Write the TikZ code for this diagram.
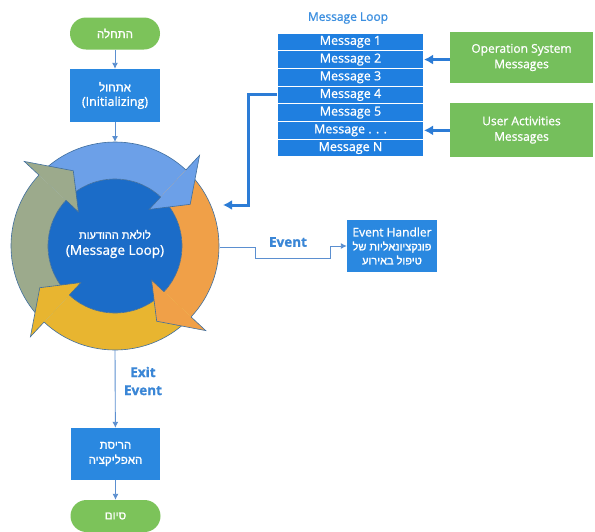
\documentclass[tikz,border=0pt]{standalone}
\usepackage{fontspec}
\setmainfont{Open Sans}[FakeBold=1]
\newfontfamily\heb[Script=Hebrew,FakeBold=1.6]{Liberation Sans}
\TeXXeTstate=1
\newcommand{\hb}[1]{{\heb\beginR #1\endR}}
\usetikzlibrary{arrows.meta}
\definecolor{boxblue}{HTML}{2A88E0}
\definecolor{msgblue}{HTML}{1F7FE0}
\definecolor{pillgreen}{HTML}{7CC35A}
\definecolor{srcgreen}{HTML}{75BF5C}
\definecolor{linkblue}{HTML}{5B8FD0}
\definecolor{thickblue}{HTML}{2C7CD6}
\definecolor{labelblue}{HTML}{3A86D6}
\definecolor{titleblue}{HTML}{3C8FE0}
\definecolor{arrblue}{HTML}{6CA0E8}
\definecolor{arrorange}{HTML}{F0A048}
\definecolor{arryellow}{HTML}{E8B530}
\definecolor{arrgray}{HTML}{9CAA8C}
\definecolor{innerblue}{HTML}{1B6CC8}
\definecolor{ringline}{HTML}{3F6E9E}
\begin{document}
\begin{tikzpicture}[x=1pt,y=-1pt,
  pill/.style={fill=pillgreen, rounded corners=16pt, minimum width=90pt, minimum height=32pt, text=white, font=\fontsize{11.5}{14}\selectfont, inner sep=0pt},
  bluebox/.style={fill=boxblue, text=white, align=center, inner sep=0pt, font=\fontsize{12.5}{14.5}\selectfont},
  msg/.style={fill=msgblue, draw=white, line width=1pt, text=white, minimum width=146pt, minimum height=17.7pt, inner sep=0pt, font=\fontsize{12.5}{14}\selectfont},
  src/.style={fill=srcgreen, text=white, align=center, minimum width=143pt, inner sep=0pt, font=\fontsize{12}{15.5}\selectfont},
  flowarrow/.style={draw=linkblue, line width=0.9pt, -{Latex[length=6pt,width=6pt]}},
  bigarrow/.style={draw=thickblue, line width=3pt, -{Latex[length=9pt,width=10pt]}},
  lbl/.style={text=labelblue, font=\bfseries\fontsize{13.5}{18}\selectfont, align=center},
  ringdraw/.style={draw=ringline, line width=0.6pt}
]
\fill[white] (0,0) rectangle (595,531);
\useasboundingbox (0,0) rectangle (595,531);

% cycle
\begin{scope}[shift={(115,246)}, y=1pt]
  \fill[innerblue] (0,0) circle (67);
  \foreach \t/\h/\c in {137/47/arrblue, 47/-43/arrorange, -43/-133/arryellow, -133/-223/arrgray}{
    \fill[\c] (\t:104) arc[start angle=\t, end angle=\h, radius=104] -- (\h:67) arc[start angle=\h, end angle=\t, radius=67] -- cycle;
    \draw[ringdraw] (\t:104) arc[start angle=\t, end angle=\h, radius=104];
    \draw[ringdraw] (\t:67) arc[start angle=\t, end angle=\h, radius=67];
  }
  \foreach \h/\c in {47/arrblue, -43/arrorange, -133/arryellow, -223/arrgray}{
    \fill[\c] (\h:104) -- (\h:124) -- ({\h-18}:86) -- (\h:50) -- (\h:67) -- cycle;
    \draw[ringdraw, line join=miter] (\h:104) -- (\h:124) -- ({\h-18}:86) -- (\h:50) -- (\h:67);
  }
\end{scope}
\node[text=white, align=center, font=\fontsize{13.5}{16}\selectfont] (looptext) at (115,244) {{\fontsize{11}{13}\selectfont\hb{לולאת ההודעות}}\\(Message Loop)};
\coordinate (looptop) at (115,142);
\coordinate (loopbottom) at (115,350);
\coordinate (loopin) at (223,205);
\coordinate (loopright) at (220,247);

% left column
\node[pill] (start) at (115,33.5) {\hb{התחלה}};
\node[bluebox, minimum width=90pt, minimum height=53pt] (init) at (115,95.5) {{\fontsize{11.5}{14}\selectfont\hb{אתחול}}\\(Initializing)};
\node[bluebox, minimum width=89pt, minimum height=52pt, font=\fontsize{11.5}{15}\selectfont] (destroy) at (115.5,454) {\hb{הריסת}\\\hb{האפליקציה}};
\node[pill] (end) at (115.5,516) {\hb{סיום}};

\draw[flowarrow] (start) -- (init);
\draw[flowarrow] (init) -- (looptop);
\draw[flowarrow] (loopbottom) -- (destroy);
\draw[flowarrow] (destroy) -- (end);
\node[lbl] (exlbl) at (143,381) {Exit\\Event};

% message loop
\node[text=titleblue, font=\fontsize{12}{14}\selectfont] (mltitle) at (348,18) {Message Loop};
\node[msg] (m1) at (350.5,41.85) {Message 1};
\node[msg] (m2) at (350.5,59.55) {Message 2};
\node[msg] (m3) at (350.5,77.25) {Message 3};
\node[msg] (m4) at (350.5,94.95) {Message 4};
\node[msg] (m5) at (350.5,112.65) {Message 5};
\node[msg] (m6) at (350.5,130.35) {Message . . .};
\node[msg] (m7) at (350.5,148.05) {Message N};

\node[src, minimum height=51pt] (os) at (521.5,57.5) {Operation System\\Messages};
\node[src, minimum height=54pt] (ua) at (521.5,130) {User Activities\\Messages};

\draw[bigarrow] (os.west |- m2.east) -- (m2.east);
\draw[bigarrow] (ua.west |- m6.east) -- (m6.east);
\coordinate (bend) at (248,205);
\draw[bigarrow] (m4.west) -| (bend) -- (loopin);

% event
\node[bluebox, minimum width=90pt, minimum height=52pt, font=\fontsize{11}{14}\selectfont] (eh) at (392,246) {{\fontsize{12}{14}\selectfont Event Handler}\\\hb{פונקציונאליות של}\\\hb{טיפול באירוע}};
\coordinate (ev1) at (255,247);
\coordinate (ev2) at (255,258);
\coordinate (ev3) at (330,258);
\draw[flowarrow] (loopright) -- (ev1) -- (ev2) -- (ev3) |- (eh.west);
\node[lbl] (evlbl) at (288,242) {Event};
\end{tikzpicture}
\end{document}
